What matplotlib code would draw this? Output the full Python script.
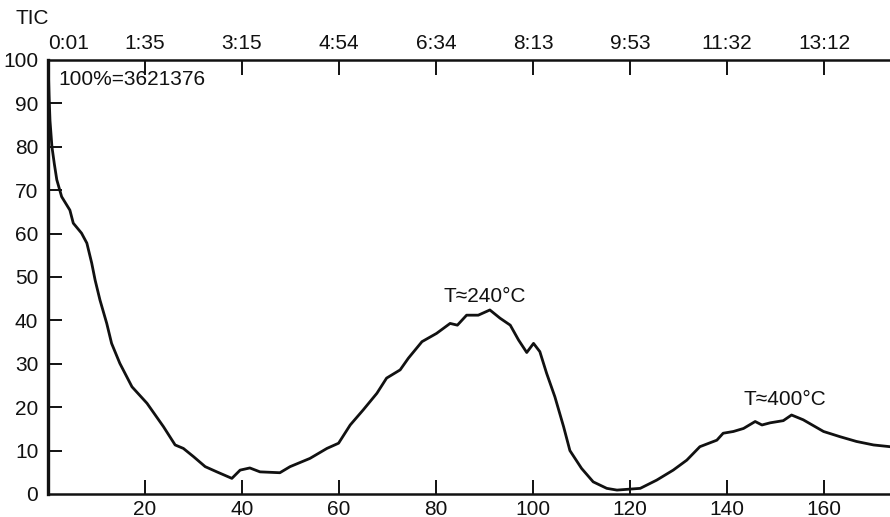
import matplotlib
matplotlib.use("Agg")
import matplotlib.pyplot as plt

plt.rcParams['font.family'] = ['Liberation Sans', 'DejaVu Sans']

# Data
scan = [0, 0.2, 0.4, 0.8, 1.3, 1.8, 2.8, 4.5, 5.2, 6.9, 8.0, 9.0, 9.7, 10.7, 12.1, 13.1,
        14.8, 17.3, 20.4, 23.8, 26.2, 27.9, 30.0, 32.4, 34.8, 37.9, 39.6, 41.6, 43.7,
        47.8, 49.9, 54.0, 57.5, 59.9, 62.3, 65.0, 67.8, 69.8, 72.6, 74.3, 77.1, 80.1,
        82.9, 84.4, 86.3, 88.7, 91.1, 93.2, 95.3, 97.0, 98.7, 100.1, 101.4, 102.8,
        104.5, 106.3, 107.6, 110.0, 112.4, 115.2, 117.3, 122.1, 125.5, 128.9, 131.7,
        134.4, 137.9, 139.2, 141.3, 143.4, 145.8, 147.2, 148.9, 151.6, 153.3, 155.7,
        159.9, 163.3, 166.7, 170.2, 173.6]
intensity = [100, 92, 86, 80, 76, 72.4, 68.5, 65.4, 62.4, 60.1, 57.8, 53.2, 49.3, 44.7,
             39.3, 34.7, 30.1, 24.7, 20.9, 15.5, 11.3, 10.5, 8.6, 6.3, 5.1, 3.6, 5.5, 6.0,
             5.1, 4.9, 6.3, 8.2, 10.5, 11.7, 15.9, 19.4, 23.2, 26.7, 28.6, 31.3, 35.1,
             37.0, 39.3, 38.9, 41.2, 41.2, 42.4, 40.5, 38.9, 35.5, 32.6, 34.7, 32.8, 27.8,
             22.4, 15.5, 10.0, 5.9, 2.8, 1.3, 0.9, 1.3, 3.2, 5.5, 7.8, 10.9, 12.4, 14.0,
             14.4, 15.1, 16.7, 15.9, 16.4, 16.9, 18.2, 17.1, 14.4, 13.2, 12.1, 11.3, 10.9]

bottom_ticks = [20, 40, 60, 80, 100, 120, 140, 160]
left_ticks = [0, 10, 20, 30, 40, 50, 60, 70, 80, 90, 100]
top_ticks = [0, 20, 40, 60, 80, 100, 120, 140, 160]
top_labels = ["0:01", "1:35", "3:15", "4:54", "6:34", "8:13", "9:53", "11:32", "13:12"]

fig = plt.figure(figsize=(8.9, 5.17), dpi=100)
ax = fig.add_axes([0.054, 0.0445, 0.946, 0.8395])
ink = '#111111'

ax.plot(scan, intensity, color=ink, lw=2.0, solid_joinstyle='round')
ax.set_xlim(0, 173.6)
ax.set_ylim(0, 100)

ax.set_xticks(bottom_ticks)
ax.set_xticklabels([str(t) for t in bottom_ticks])
ax.set_yticks(left_ticks)
ax.set_yticklabels([str(t) for t in left_ticks])
ax.tick_params(axis='x', direction='in', length=10, width=1.4, pad=4,
               labelsize=15, colors=ink)
ax.tick_params(axis='y', direction='in', length=10, width=1.4, pad=7,
               labelsize=15, colors=ink)
# hide tick marks at 0 and 100 on y
for t in ax.yaxis.get_major_ticks():
    if t.get_loc() in (0, 100):
        t.tick1line.set_visible(False)

ax.spines['right'].set_visible(False)
ax.spines['left'].set_linewidth(2.4)
ax.spines['bottom'].set_linewidth(1.8)
ax.spines['top'].set_linewidth(1.8)
for s in ax.spines.values():
    s.set_color(ink)

ax2 = ax.twiny()
ax2.set_xlim(ax.get_xlim())
ax2.set_xticks(top_ticks)
ax2.set_xticklabels(top_labels)
ax2.tick_params(axis='x', direction='in', length=11, width=1.4, pad=5,
                labelsize=15, colors=ink)
ax2.xaxis.get_major_ticks()[0].tick2line.set_visible(False)
ax2.get_xticklabels()[0].set_ha('left')
for s in ax2.spines.values():
    s.set_visible(False)

fig.text(0.017, 0.965, "TIC", fontsize=15, color=ink, ha='left', va='center')
ax.text(0.012, 0.955, "100%=3621376", transform=ax.transAxes, fontsize=15,
        color=ink, ha='left', va='center')
ax.text(90.1, 45.4, "T\u2248240\u00b0C", fontsize=15, color=ink, ha='center', va='center')
ax.text(152, 21.7, "T\u2248400\u00b0C", fontsize=15, color=ink, ha='center', va='center')

fig.savefig("out.png", dpi=100, facecolor='white')
